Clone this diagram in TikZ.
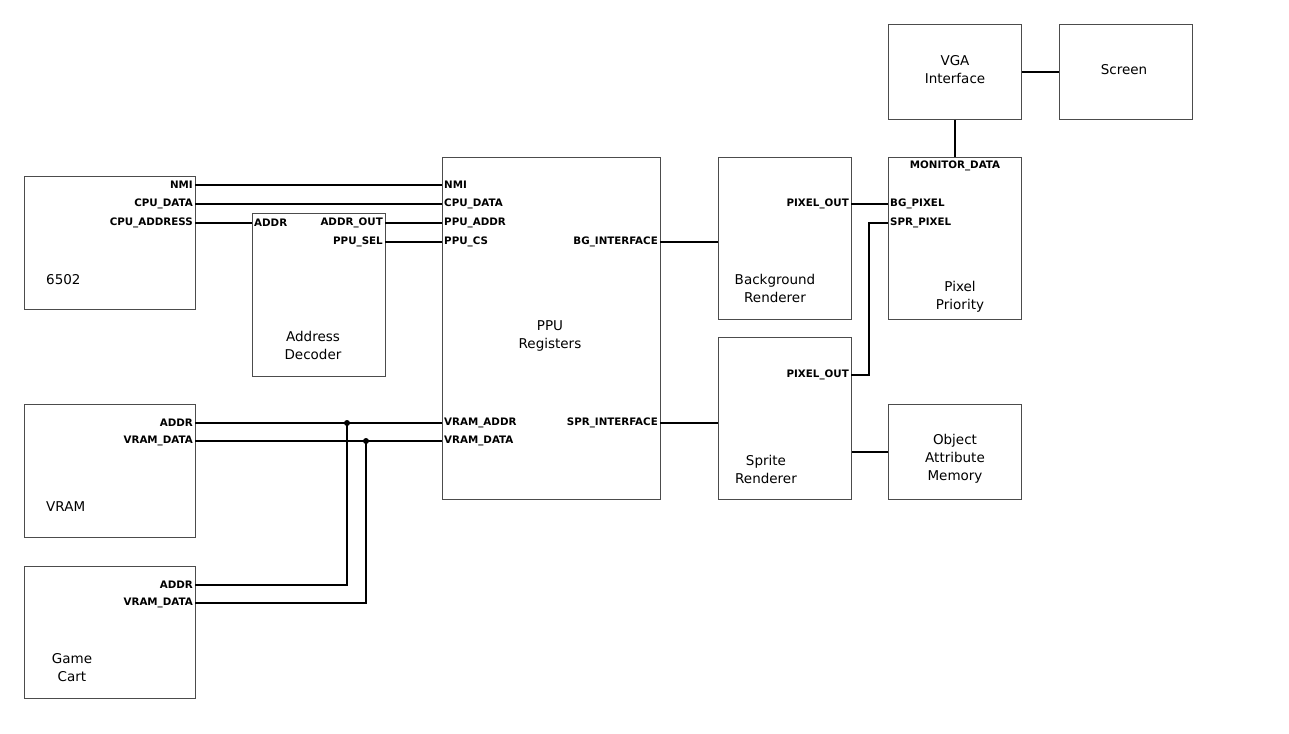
\documentclass[tikz,border=0pt]{standalone}
\usepackage{fontspec}
\setmainfont{DejaVu Sans}
\begin{document}
\begin{tikzpicture}[x=1pt,y=-1pt]
\tikzstyle{every node}+=[inner sep=0pt]
\tikzstyle{block}=[draw=black!70, line width=0.8pt, anchor=north west]
\tikzstyle{port}=[font=\bfseries\fontsize{10.3}{12}\selectfont, inner xsep=2pt]
\tikzstyle{title}=[font=\fontsize{13.5}{18}\selectfont, align=center]
\tikzstyle{wire}=[line width=1.6pt]
\tikzstyle{joint}=[fill, circle, minimum size=6pt]
\useasboundingbox (0,0) rectangle (1289,733);
% blocks
\node [block, minimum width=171pt, minimum height=133pt] (cpu) at (24,176) {};
\node [title, anchor=west] (cpuname) at (46,280) {6502};
\node [block, minimum width=133pt, minimum height=163pt] (dec) at (252,213) {};
\node [title] (decname) at (313,345) {Address\\Decoder};
\node [block, minimum width=218pt, minimum height=342pt] (ppu) at (442,157) {};
\node [title] (ppuname) at (550,336) {PPU\\Registers};
\node [block, minimum width=133pt, minimum height=162pt] (bg) at (718,157) {};
\node [title] (bgname) at (775,288) {Background\\Renderer};
\node [block, minimum width=133pt, minimum height=162pt] (spr) at (718,337) {};
\node [title] (sprname) at (766,469) {Sprite\\Renderer};
\node [block, minimum width=133pt, minimum height=95pt] (vga) at (888,24) {};
\node [title] (vganame) at (955,70) {VGA\\Interface};
\node [block, minimum width=133pt, minimum height=95pt] (screen) at (1059,24) {};
\node [title] (screenname) at (1124,70) {Screen};
\node [block, minimum width=133pt, minimum height=162pt] (prio) at (888,157) {};
\node [title] (prioname) at (960,297) {Pixel\\Priority};
\node [block, minimum width=133pt, minimum height=95pt] (oam) at (888,404) {};
\node [title] (oamname) at (955,459) {Object\\Attribute\\Memory};
\node [block, minimum width=171pt, minimum height=133pt] (vram) at (24,404) {};
\node [title, anchor=west] (vramname) at (46,507) {VRAM};
\node [block, minimum width=171pt, minimum height=132pt] (cart) at (24,566) {};
\node [title] (cartname) at (72,668) {Game\\Cart};
% ports
\node [port, anchor=east] (cpunmi) at (195,185) {NMI};
\node [port, anchor=east] (cpudata) at (195,204) {CPU\_DATA};
\node [port, anchor=east] (cpuaddr) at (195,223) {CPU\_ADDRESS};
\node [port, anchor=west] (decaddr) at (252,223) {ADDR};
\node [port, anchor=east] (decout) at (385,223) {ADDR\_OUT};
\node [port, anchor=east] (decsel) at (385,242) {PPU\_SEL};
\node [port, anchor=west] (ppunmi) at (442,185) {NMI};
\node [port, anchor=west] (ppudata) at (442,204) {CPU\_DATA};
\node [port, anchor=west] (ppuaddr) at (442,223) {PPU\_ADDR};
\node [port, anchor=west] (ppucs) at (442,242) {PPU\_CS};
\node [port, anchor=west] (ppuvaddr) at (442,423) {VRAM\_ADDR};
\node [port, anchor=west] (ppuvdata) at (442,441) {VRAM\_DATA};
\node [port, anchor=east] (ppubg) at (660,242) {BG\_INTERFACE};
\node [port, anchor=east] (ppuspr) at (660,423) {SPR\_INTERFACE};
\node [port, anchor=east] (bgpix) at (851,204) {PIXEL\_OUT};
\node [port, anchor=east] (sprpix) at (851,375) {PIXEL\_OUT};
\node [port, anchor=north, inner ysep=4pt] (priomon) at (955,157) {MONITOR\_DATA};
\node [port, anchor=west] (priobg) at (888,204) {BG\_PIXEL};
\node [port, anchor=west] (priospr) at (888,223) {SPR\_PIXEL};
\node [port, anchor=east] (vramaddr) at (195,423) {ADDR};
\node [port, anchor=east] (vramdata) at (195,441) {VRAM\_DATA};
\node [port, anchor=east] (cartaddr) at (195,585) {ADDR};
\node [port, anchor=east] (cartdata) at (195,603) {VRAM\_DATA};
% wires
\draw [wire] (cpunmi.east) -- (ppunmi.west);
\draw [wire] (cpudata.east) -- (ppudata.west);
\draw [wire] (cpuaddr.east) -- (decaddr.west);
\draw [wire] (decout.east) -- (ppuaddr.west);
\draw [wire] (decsel.east) -- (ppucs.west);
\draw [wire] (ppubg.east) -- (ppubg.east -| bg.west);
\draw [wire] (ppuspr.east) -- (ppuspr.east -| spr.west);
\draw [wire] (bgpix.east) -- (priobg.west);
\coordinate (sprbend) at (869,300);
\draw [wire] (sprpix.east) -| (sprbend) |- (priospr.west);
\draw [wire] (oam.west) -- (oam.west -| spr.east);
\draw [wire] (vga.south) -- (prio.north);
\draw [wire] (vga.east) -- (screen.west);
\node [joint] (jaddr) at (347,423) {};
\node [joint] (jdata) at (366,441) {};
\draw [wire] (vramaddr.east) -- (ppuvaddr.west);
\draw [wire] (vramdata.east) -- (ppuvdata.west);
\draw [wire] (cartaddr.east) -| (jaddr.center);
\draw [wire] (cartdata.east) -| (jdata.center);
\end{tikzpicture}
\end{document}
